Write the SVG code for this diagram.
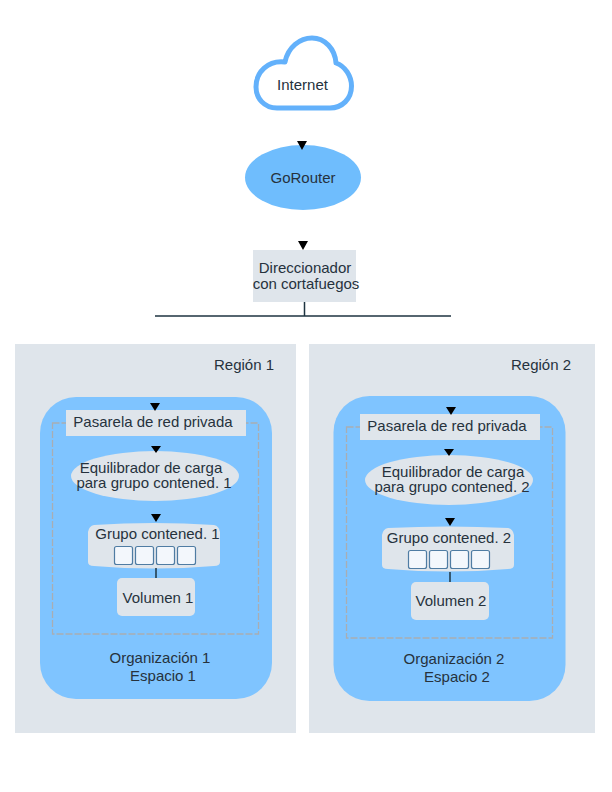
<svg xmlns="http://www.w3.org/2000/svg" width="612" height="792" viewBox="0 0 612 792">
<style>
text{font-family:"Liberation Sans",Arial,sans-serif;font-size:15px;fill:#26323d;text-anchor:middle}
.region{fill:#dfe5eb}
.org{fill:#7fc4ff}
.light{fill:#dfe5eb}
.dash{fill:none;stroke:#a9adb2;stroke-width:1.3;stroke-dasharray:7 2}
.cell{fill:#f3f7fc;stroke:#4f7ca3;stroke-width:1.2}
.line{stroke:#1f3442;stroke-width:1.5;fill:none}
.arrow{fill:#000}
</style>
<rect width="612" height="792" fill="#fff"/>
<g id="region-1">
<rect class="region" x="15" y="344" width="281" height="389"/>
<text x="244" y="370">Región 1</text>
</g>
<g id="region-2">
<rect class="region" x="309" y="344" width="286" height="389"/>
<text x="541" y="370">Región 2</text>
</g>
<g id="internet">
<path d="M277 108C264 108 256 98 256 87C256 72 268 60 285 62C288 47 300 38 312 38C325 38 335 49 336 63C345 66 351.500 76 351.500 86C351.500 99 342 108 330 108Z" fill="#fff" stroke="#63b1fb" stroke-width="5" stroke-linejoin="round"/>
<text x="302.500" y="90">Internet</text>
</g>
<g id="gorouter">
<ellipse cx="303" cy="177.500" rx="58" ry="32.500" fill="#6fbdfd"/>
<text x="303" y="183">GoRouter</text>
</g>
<g id="direccionador">
<rect class="light" x="253" y="250" width="103" height="52"/>
<text x="305" y="273">Direccionador</text>
<text x="306" y="289">con cortafuegos</text>
</g>
<g id="organizacion-1">
<rect class="org" x="40" y="397" width="232" height="302" rx="36"/>
<rect class="dash" x="52.500" y="423" width="206" height="211"/>
<text x="160" y="663">Organización 1</text>
<text x="163" y="681">Espacio 1</text>
</g>
<g id="organizacion-2">
<rect class="org" x="333.500" y="396" width="232" height="305" rx="36"/>
<rect class="dash" x="346.500" y="427" width="206" height="211"/>
<text x="454" y="664">Organización 2</text>
<text x="457" y="682">Espacio 2</text>
</g>
<g id="pasarela-1">
<rect class="light" x="66" y="410" width="180" height="26"/>
<text x="153" y="427">Pasarela de red privada</text>
</g>
<g id="pasarela-2">
<rect class="light" x="360" y="414" width="180" height="26"/>
<text x="447" y="431">Pasarela de red privada</text>
</g>
<g id="equilibrador-1">
<ellipse class="light" cx="155" cy="476" rx="84" ry="25"/>
<text x="151" y="473">Equilibrador de carga</text>
<text x="154" y="488">para grupo contened. 1</text>
</g>
<g id="equilibrador-2">
<ellipse class="light" cx="449" cy="480" rx="84" ry="25"/>
<text x="453" y="477">Equilibrador de carga</text>
<text x="452" y="492">para grupo contened. 2</text>
</g>
<g id="grupo-1">
<path class="light" d="M94 525Q154 521 214 525Q219 526 220 532V562Q220 566 214 566Q154 571 94 566Q88 566 88 562V532Q89 526 94 525Z"/>
<text x="157.500" y="539">Grupo contened. 1</text>
<rect class="cell" x="114.500" y="546.500" width="18" height="18" rx="2"/>
<rect class="cell" x="135.500" y="546.500" width="18" height="18" rx="2"/>
<rect class="cell" x="156.500" y="546.500" width="18" height="18" rx="2"/>
<rect class="cell" x="177.500" y="546.500" width="18" height="18" rx="2"/>
</g>
<g id="grupo-2">
<path class="light" d="M388 528Q448 525 508 528Q513 529 514 535V565Q514 569 508 569Q448 574 388 569Q382 569 382 565V535Q383 529 388 528Z"/>
<text x="449" y="543">Grupo contened. 2</text>
<rect class="cell" x="408.500" y="550.500" width="18" height="18" rx="2"/>
<rect class="cell" x="429.500" y="550.500" width="18" height="18" rx="2"/>
<rect class="cell" x="450.500" y="550.500" width="18" height="18" rx="2"/>
<rect class="cell" x="471.500" y="550.500" width="18" height="18" rx="2"/>
</g>
<g id="volumen-1">
<rect class="light" x="117" y="578" width="78" height="38" rx="5"/>
<text x="158" y="603">Volumen 1</text>
</g>
<g id="volumen-2">
<rect class="light" x="411" y="582" width="78" height="38" rx="5"/>
<text x="451" y="606">Volumen 2</text>
</g>
<g id="connectors">
<path class="line" d="M304.500 302V316M155 316H451"/>
<path class="line" d="M156 568V578M450 572V582"/>
<path class="arrow" d="M297 141H307L302 150ZM298 241H308L303 250ZM150 403H160L155 411ZM446 407H456L451 415ZM151 446H161L156 453ZM444 449H454L449 456ZM151 514H161L156 522ZM445 518H455L450 526Z"/>
</g>
</svg>
